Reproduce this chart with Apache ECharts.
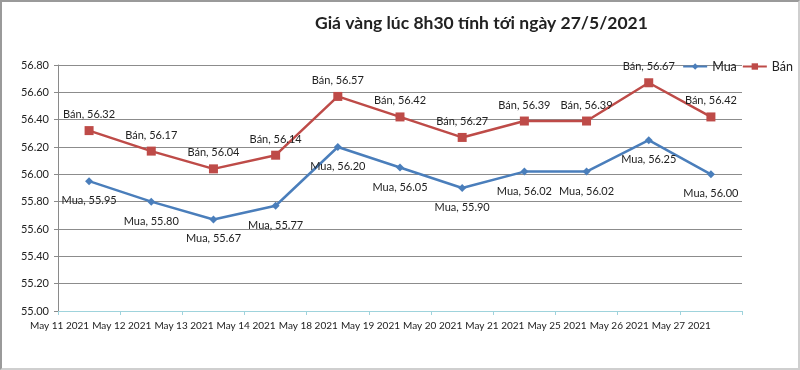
<!DOCTYPE html>
<html><head><meta charset="utf-8">
<script src="https://cdn.jsdelivr.net/npm/echarts@6/dist/echarts.min.js"></script>
<style>
html,body{margin:0;padding:0;background:#fff;}
#c{width:800px;height:370px;box-sizing:border-box;border:2px solid #9a9a9a;border-right-color:#cfcfcf;border-bottom-color:#cfcfcf;}
</style></head>
<body><div id="c"></div>
<script>
const categories = ['May 11 2021','May 12 2021','May 13 2021','May 14 2021','May 18 2021','May 19 2021','May 20 2021','May 21 2021','May 25 2021','May 26 2021','May 27 2021'];
const mua = [55.95, 55.80, 55.67, 55.77, 56.20, 56.05, 55.90, 56.02, 56.02, 56.25, 56.00];
const ban = [56.32, 56.17, 56.04, 56.14, 56.57, 56.42, 56.27, 56.39, 56.39, 56.67, 56.42];
const yMin = 55.0, yMax = 56.8, yStep = 0.2;

const chart = echarts.init(document.getElementById('c'));
const font = 'Lato, "Open Sans", sans-serif';
chart.setOption({
  animation: false,
  backgroundColor: '#fff',
  textStyle: {fontFamily: font},
  title: {
    text: 'Giá vàng lúc 8h30 tính tới ngày 27/5/2021',
    left: 308, top: 7,
    textStyle: {fontFamily: font, fontSize: 17.5, fontWeight: 'bold', color: '#222'}
  },
  legend: {
    right: 0, top: 53, itemWidth: 24, itemHeight: 8, itemGap: 5,
    textStyle: {fontFamily: font, fontSize: 12.5, color: '#222'},
    data: ['Mua', 'Bán']
  },
  grid: {left: 56, right: 56, top: 63, bottom: 57, containLabel: false},
  xAxis: {
    type: 'category', data: categories, boundaryGap: true,
    axisLine: {lineStyle: {color: '#9fd3dc', width: 1}},
    axisTick: {show: true, interval: 0, length: 4, lineStyle: {color: '#9fd3dc'}},
    axisLabel: {interval: 0, align: 'right', margin: 10, fontSize: 10, color: '#222', fontFamily: font}
  },
  yAxis: {
    type: 'value', min: yMin, max: yMax, interval: yStep,
    axisLine: {show: true, lineStyle: {color: '#8a8a8a'}},
    axisTick: {show: true, length: 4, lineStyle: {color: '#8a8a8a'}},
    axisLabel: {formatter: v => v.toFixed(2), fontSize: 11, color: '#222', margin: 9, fontFamily: font},
    splitLine: {lineStyle: {color: '#8c8c8c', width: 1}}
  },
  series: [
    {
      name: 'Mua', type: 'line', data: mua,
      symbol: 'diamond', symbolSize: 8,
      lineStyle: {color: '#4a7ebb', width: 2.5},
      itemStyle: {color: '#4a7ebb'},
      label: {show: true, position: 'bottom', distance: 10, fontSize: 11, color: '#222', fontFamily: font,
        formatter: p => 'Mua, ' + p.value.toFixed(2)}
    },
    {
      name: 'Bán', type: 'line', data: ban,
      symbol: 'rect', symbolSize: 9,
      lineStyle: {color: '#be4b48', width: 2.5},
      itemStyle: {color: '#be4b48'},
      label: {show: true, position: 'top', distance: 6, fontSize: 11, color: '#222', fontFamily: font,
        formatter: p => 'Bán, ' + p.value.toFixed(2)}
    }
  ]
});
</script></body></html>
